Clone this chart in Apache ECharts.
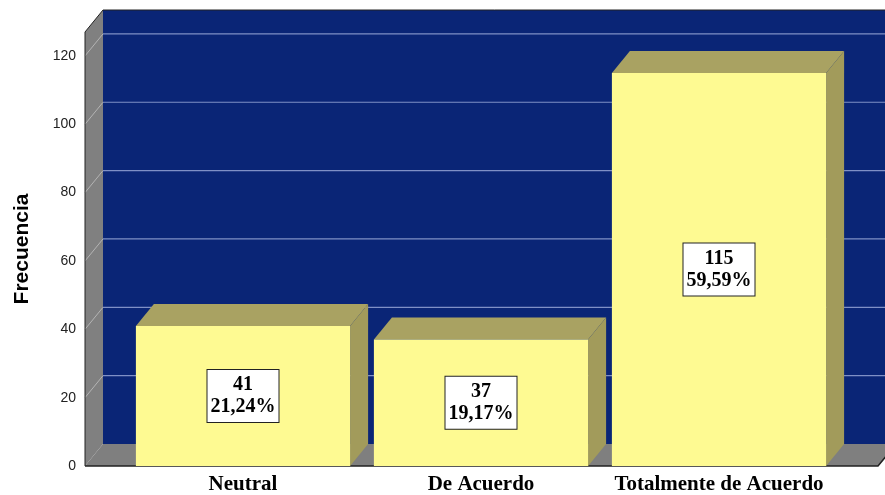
<!DOCTYPE html>
<html>
<head>
<meta charset="utf-8">
<script src="https://cdn.jsdelivr.net/npm/echarts@6/dist/echarts.min.js"></script>
<style>html,body{margin:0;padding:0;background:#fff}#c{width:885px;height:495px}</style>
</head>
<body>
<div id="c"></div>
<script>
const categories = ['Neutral', 'De Acuerdo', 'Totalmente de Acuerdo'];
const counts = [41, 37, 115];
const percents = ['21,24%', '19,17%', '59,59%'];
const yTicks = [20, 40, 60, 80, 100, 120];

const DX = 18, DY = -22;
const chart = echarts.init(document.getElementById('c'));

function renderBackground(params, api) {
  const cs = params.coordSys;
  const y0 = api.coord([0, 0])[1];
  const yTop = cs.y;
  const xl = cs.x - 39;
  const xr = cs.x + cs.width + 40;
  const children = [];
  children.push({type: 'rect', shape: {x: xl + DX, y: yTop + DY, width: xr - xl + 30, height: y0 - yTop}, style: {fill: '#0a2576'}});
  children.push({type: 'polygon', shape: {points: [[xl, yTop], [xl + DX, yTop + DY], [xl + DX, y0 + DY], [xl, y0]]}, style: {fill: '#808080'}});
  children.push({type: 'polygon', shape: {points: [[xl, y0], [xr, y0], [xr + DX, y0 + DY], [xl + DX, y0 + DY]]}, style: {fill: '#7f7f7f'}});
  yTicks.forEach(function (v) {
    const y = api.coord([0, v])[1];
    children.push({type: 'line', shape: {x1: xl, y1: y, x2: xl + DX, y2: y + DY}, style: {stroke: '#b4b4b4', lineWidth: 1}});
    children.push({type: 'line', shape: {x1: xl + DX, y1: y + DY, x2: xr + 40, y2: y + DY}, style: {stroke: '#7f90c6', lineWidth: 1.2}});
  });
  children.push({type: 'polyline', shape: {points: [[xl, y0], [xl, yTop], [xl + DX, yTop + DY], [xr + 40, yTop + DY]]}, style: {stroke: '#222', lineWidth: 1, fill: null}});
  children.push({type: 'polyline', shape: {points: [[xl, y0], [xr, y0], [xr + DX, y0 + DY]]}, style: {stroke: '#222', lineWidth: 1.5, fill: null}});
  return {type: 'group', children: children};
}

function renderBar(params, api) {
  const idx = api.value(0);
  const val = api.value(1);
  const top = api.coord([idx, val]);
  const base = api.coord([idx, 0]);
  const w = api.size([1, 0])[0] * 0.9;
  const x0 = top[0] - w / 2, x1 = top[0] + w / 2;
  const yt = top[1], yb = base[1];
  return {
    type: 'group',
    children: [
      {type: 'polygon', shape: {points: [[x1, yt], [x1 + DX, yt + DY], [x1 + DX, yb + DY], [x1, yb]]}, style: {fill: '#a29b5b'}},
      {type: 'polygon', shape: {points: [[x0, yt], [x1, yt], [x1 + DX, yt + DY], [x0 + DX, yt + DY]]}, style: {fill: '#a9a262'}},
      {type: 'rect', shape: {x: x0, y: yt, width: w, height: yb - yt}, style: {fill: '#fefa92'}},
      {type: 'text', x: top[0], y: (yt + yb) / 2,
        style: {
          text: counts[params.dataIndex] + '\n' + percents[params.dataIndex],
          align: 'center', verticalAlign: 'middle',
          font: 'bold 20px "Liberation Serif", "Times New Roman", serif',
          fill: '#000', lineHeight: 22,
          backgroundColor: '#fff', borderColor: '#222', borderWidth: 1,
          padding: [5, 3, 3, 3]
        }}
    ]
  };
}

chart.setOption({
  animation: false,
  grid: {left: 124, right: 47, top: 32, bottom: 27},
  xAxis: {
    type: 'category', data: categories,
    axisLine: {show: false}, axisTick: {show: false},
    axisLabel: {interval: 0, margin: 8, color: '#000', fontSize: 21, fontWeight: 'bold', fontFamily: '"Liberation Serif", "Times New Roman", serif'}
  },
  yAxis: {
    type: 'value', min: 0, max: 127, interval: 20,
    axisLine: {show: false}, axisTick: {show: false}, splitLine: {show: false},
    axisLabel: {margin: 48, color: '#222', fontSize: 14, fontFamily: '"Liberation Sans", Arial, sans-serif',
      formatter: function (v) { return v % 20 === 0 ? String(v) : ''; }},
    name: 'Frecuencia', nameLocation: 'middle', nameGap: 91,
    nameTextStyle: {color: '#000', fontSize: 21, fontWeight: 'bold', fontFamily: '"Liberation Sans", Arial, sans-serif'}
  },
  series: [
    {type: 'custom', renderItem: renderBackground, data: [[0, 0]], z: 1, silent: true},
    {type: 'custom', renderItem: renderBar, data: counts.map(function (v, i) { return [i, v]; }), z: 2}
  ]
});
</script>
</body>
</html>
